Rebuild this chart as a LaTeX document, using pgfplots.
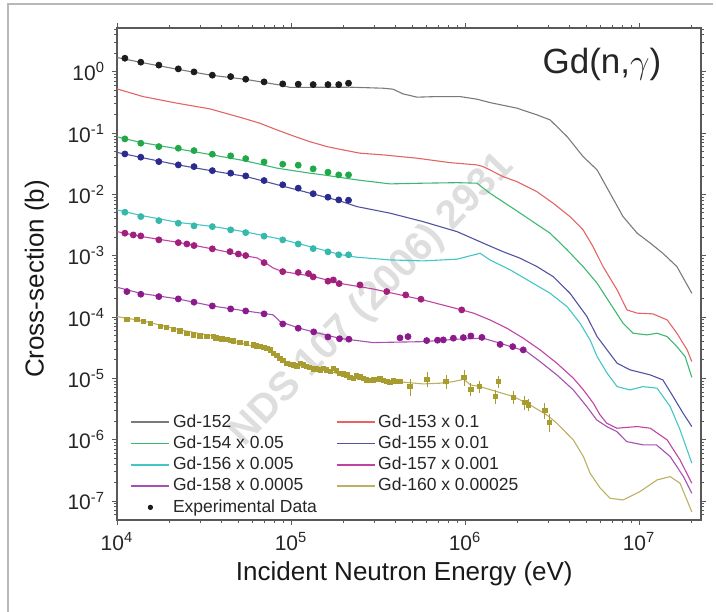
\documentclass[border=0pt]{standalone}
\usepackage{fontspec}
\setmainfont{Liberation Sans}
\usepackage{pgfplots}
\pgfplotsset{compat=1.18}

\definecolor{l152}{HTML}{7A7A7A}
\definecolor{l153}{HTML}{E46464}
\definecolor{l154}{HTML}{3DB872}
\definecolor{l155}{HTML}{5252A2}
\definecolor{l156}{HTML}{42C6C6}
\definecolor{l157}{HTML}{C242A2}
\definecolor{l158}{HTML}{A452B2}
\definecolor{l160}{HTML}{BCB062}
\definecolor{d152}{HTML}{1C1C1C}
\definecolor{d154}{HTML}{20A84A}
\definecolor{d155}{HTML}{2B2B8F}
\definecolor{d156}{HTML}{36B8AA}
\definecolor{d157}{HTML}{A0207C}
\definecolor{d158}{HTML}{8C1A8C}
\definecolor{d160}{HTML}{A89C30}

\pgfplotsset{
  calc/.style={line width=0.55pt, no marks},
  expt/.style={only marks, mark=*, mark size=1.5pt},
}

\begin{document}
\begin{tikzpicture}
\begin{axis}[
    xmode=log, ymode=log,
    scale only axis,
    width=292pt, height=246pt,
    xmin=1e4, xmax=2.27e7,
    ymin=4.9e-8, ymax=5.2,
    xtick={1e4,1e5,1e6,1e7},
    xticklabels={10\textsuperscript{4},10\textsuperscript{5},10\textsuperscript{6},10\textsuperscript{7}},
    minor xtick={2e4,3e4,4e4,5e4,6e4,7e4,8e4,9e4,2e5,3e5,4e5,5e5,6e5,7e5,8e5,9e5,
                 2e6,3e6,4e6,5e6,6e6,7e6,8e6,9e6,2e7},
    ytick={1e-7,1e-6,1e-5,1e-4,1e-3,1e-2,1e-1,1e0},
    yticklabels={10\textsuperscript{-7},10\textsuperscript{-6},10\textsuperscript{-5},10\textsuperscript{-4},
                 10\textsuperscript{-3},10\textsuperscript{-2},10\textsuperscript{-1},10\textsuperscript{0}},
    minor ytick={6e-8,7e-8,8e-8,9e-8,
                 2e-7,3e-7,4e-7,5e-7,6e-7,7e-7,8e-7,9e-7,
                 2e-6,3e-6,4e-6,5e-6,6e-6,7e-6,8e-6,9e-6,
                 2e-5,3e-5,4e-5,5e-5,6e-5,7e-5,8e-5,9e-5,
                 2e-4,3e-4,4e-4,5e-4,6e-4,7e-4,8e-4,9e-4,
                 2e-3,3e-3,4e-3,5e-3,6e-3,7e-3,8e-3,9e-3,
                 2e-2,3e-2,4e-2,5e-2,6e-2,7e-2,8e-2,9e-2,
                 2e-1,3e-1,4e-1,5e-1,6e-1,7e-1,8e-1,9e-1,
                 2e0,3e0,4e0,5e0},
    tick align=outside,
    major tick length=2.5pt, minor tick length=1.5pt,
    axis line style={black!65, line width=0.7pt},
    every tick/.style={black!65, line width=0.5pt},
    tick label style={font=\fontsize{10.5}{12}\selectfont, text=black!85},
    xlabel={Incident Neutron Energy (eV)},
    ylabel={Cross-section (b)},
    label style={font=\fontsize{13}{15}\selectfont, text=black!90},
    xlabel style={at={(axis description cs:0.492,-0.122)}, anchor=base},
    ylabel style={at={(axis description cs:-0.137,0.49)}, anchor=center},
    legend columns=2,
    legend cell align=left,
    legend style={at={(axis cs:1.1e4,4.9e-8)}, anchor=south west, yshift=-1.2pt,
      draw=none, fill=none,
      font=\fontsize{8.75}{10.5}\selectfont, text=black!85,
      nodes={inner sep=1.4pt, text depth=0.15em},
      /tikz/every even column/.append style={column sep=8pt}},
    legend image code/.code={\draw[#1] (0pt,0pt) -- (19pt,0pt);},
]

\node[rotate=46, text=black!13, font=\bfseries\fontsize{20}{20}\selectfont]
  at (rel axis cs:0.437,0.447) {NDS 107 (2006) 2931};

% evaluated curves
\addplot[calc, l152, forget plot] coordinates {
(1e4,1.72) (1.37e4,1.43) (2.24e4,1.10) (3.52e4,0.877) (5.5e4,0.755) (8.87e4,0.602)
(9.86e4,0.559) (2.18e5,0.563) (3.38e5,0.542) (3.86e5,0.522) (4.40e5,0.438) (5.30e5,0.387)
(6.90e5,0.396) (9.35e5,0.396) (1.17e6,0.359) (1.39e6,0.316) (1.99e6,0.256) (2.59e6,0.199)
(3.08e6,0.165) (3.86e6,0.0880) (4.77e6,0.0415) (5.74e6,0.0252) (6.81e6,0.0105)
(8.09e6,4.36e-3) (9.75e6,2.34e-3) (1.16e7,1.61e-3) (1.37e7,1.10e-3) (1.65e7,6.67e-4) (2.01e7,2.45e-4)
};
\addplot[calc, l153, forget plot] coordinates {
(1e4,0.528) (1.41e4,0.396) (2.21e4,0.309) (3.42e4,0.249) (5.30e4,0.176) (6.64e4,0.145)
(8.31e4,0.113) (1.03e5,0.0903) (1.28e5,0.0729) (1.61e5,0.0604) (1.99e5,0.0534) (2.49e5,0.0472)
(3.38e5,0.0443) (5.30e5,0.0391) (8.20e5,0.0331) (1.17e6,0.0304) (1.27e6,0.0285) (1.39e6,0.0252)
(1.65e6,0.0196) (1.99e6,0.0162) (2.59e6,0.0111) (3.21e6,7.21e-3) (4.01e6,4.36e-3) (4.77e6,2.65e-3)
(5.44e6,1.41e-3) (6.21e6,6.67e-4) (7.48e6,2.78e-4) (8.53e6,1.31e-4) (9.75e6,1.16e-4) (1.20e7,1.13e-4)
(1.45e7,9.0e-5) (1.65e7,5.46e-5) (1.89e7,2.92e-5) (2.01e7,1.88e-5)
};
\addplot[calc, l154, forget plot] coordinates {
(1e4,0.0871) (1.37e4,0.0708) (2.24e4,0.0555) (3.52e4,0.0443) (5.5e4,0.0353) (8.31e4,0.0269)
(1.28e5,0.0223) (1.53e5,0.0209) (2.39e5,0.0173) (3.71e5,0.0149) (5.74e5,0.0153) (8.99e5,0.0156)
(1.17e6,0.0153) (1.39e6,0.0105) (1.82e6,6.35e-3) (2.37e6,3.85e-3) (3.08e6,2.34e-3) (3.86e6,1.25e-3)
(4.77e6,6.67e-4) (5.74e6,3.57e-4) (6.81e6,1.69e-4) (8.09e6,7.95e-5) (9.24e6,5.46e-5) (1.11e7,5.13e-5)
(1.27e7,5.46e-5) (1.45e7,4.81e-5) (1.65e7,3.30e-5) (1.84e7,2.27e-5) (2.01e7,1.04e-5)
};
\addplot[calc, l155, forget plot] coordinates {
(1e4,0.0486) (1.37e4,0.0403) (2.24e4,0.0304) (3.52e4,0.0243) (5.5e4,0.0197) (8.87e4,0.0138)
(1.34e5,0.0102) (1.91e5,7.87e-3) (2.39e5,6.35e-3) (3.71e5,4.96e-3) (5.74e5,3.61e-3) (8.99e5,2.48e-3)
(1.34e6,1.51e-3) (1.65e6,1.17e-3) (2.07e6,9.15e-4) (2.59e6,6.67e-4) (3.21e6,4.58e-4) (4.01e6,2.45e-4)
(5.02e6,1.02e-4) (5.74e6,4.81e-5) (6.55e6,2.92e-5) (7.48e6,1.77e-5) (8.87e6,1.38e-5) (1.16e7,1.14e-5)
(1.37e7,9.46e-6) (1.57e7,5.05e-6) (1.79e7,2.71e-6) (2.01e7,1.64e-6)
};
\addplot[calc, l156, forget plot] coordinates {
(1e4,5.61e-3) (1.37e4,4.56e-3) (2.24e4,3.51e-3) (3.52e4,3.02e-3) (5.5e4,2.45e-3) (8.87e4,1.85e-3)
(1.34e5,1.37e-3) (1.91e5,1.05e-3) (2.39e5,9.48e-4) (3.71e5,8.57e-4) (5.74e5,8.26e-4) (8.99e5,8.81e-4)
(1.22e6,1.10e-3) (1.39e6,8.57e-4) (1.82e6,5.89e-4) (2.37e6,3.79e-4) (3.08e6,2.45e-4) (3.86e6,1.48e-4)
(4.58e6,7.95e-5) (5.23e6,4.25e-5) (5.74e6,2.27e-5) (6.55e6,1.22e-5) (7.48e6,7.35e-6) (8.87e6,6.49e-6)
(1.05e7,7.35e-6) (1.27e7,6.92e-6) (1.51e7,3.47e-6) (1.72e7,1.45e-6) (2.01e7,4.14e-7)
};
\addplot[calc, l157, forget plot] coordinates {
(1e4,2.48e-3) (1.37e4,2.07e-3) (2.24e4,1.66e-3) (3.52e4,1.30e-3) (5.5e4,9.96e-4) (6.38e4,9.24e-4)
(7.0e4,7.94e-4) (7.88e4,6.35e-4) (8.87e4,5.57e-4) (1.34e5,4.62e-4) (1.91e5,3.55e-4) (2.96e5,2.88e-4)
(5.74e5,1.91e-4) (9.57e5,1.31e-4) (1.12e6,1.16e-4) (1.39e6,9.0e-5) (1.74e6,6.59e-5) (2.16e6,4.53e-5)
(2.70e6,2.92e-5) (3.37e6,1.77e-5) (4.19e6,1.01e-5) (4.79e6,6.49e-6) (5.46e6,3.94e-6) (5.97e6,2.54e-6)
(6.52e6,1.86e-6) (7.45e6,1.54e-6) (9.75e6,1.64e-6) (1.16e7,1.54e-6) (1.45e7,9.93e-7) (1.72e7,4.68e-7)
(2.01e7,1.95e-7)
};
\addplot[calc, l158, forget plot] coordinates {
(1e4,3.07e-4) (1.37e4,2.44e-4) (2.24e4,1.98e-4) (3.52e4,1.52e-4) (5.5e4,1.26e-4) (7.88e4,1.09e-4)
(8.65e4,8.45e-5) (1.10e5,6.67e-5) (1.34e5,5.74e-5) (1.91e5,4.50e-5) (2.96e5,3.84e-5) (5.74e5,3.98e-5)
(8.99e5,4.36e-5) (1.27e6,4.53e-5) (1.59e6,3.75e-5) (2.26e6,2.74e-5) (2.70e6,1.88e-5) (3.37e6,1.14e-5)
(4.19e6,6.49e-6) (5.01e6,3.47e-6) (5.71e6,2.10e-6) (6.52e6,1.64e-6) (7.45e6,1.36e-6) (8.50e6,9.31e-7)
(1.06e7,8.22e-7) (1.26e7,8.22e-7) (1.51e7,5.30e-7) (1.80e7,2.50e-7) (2.01e7,1.34e-7)
};
\addplot[calc, l160, forget plot] coordinates {
(1e4,1.02e-4) (1.41e4,8.67e-5) (2.24e4,6.30e-5) (3.52e4,4.93e-5) (5.5e4,3.59e-5) (7.25e4,2.92e-5)
(7.88e4,2.61e-5) (8.65e4,2.12e-5) (9.86e4,1.72e-5) (1.53e5,1.38e-5) (2.39e5,1.00e-5) (4.06e5,8.87e-6)
(5.74e5,8.13e-6) (7.18e5,8.35e-6) (8.57e5,8.87e-6) (9.87e5,9.70e-6) (1.07e6,7.84e-6) (1.22e6,7.35e-6)
(1.52e6,6.10e-6) (1.90e6,5.05e-6) (2.36e6,3.70e-6) (2.95e6,2.54e-6) (3.37e6,1.86e-6) (4.19e6,9.93e-7)
(4.79e6,5.30e-7) (5.23e6,2.84e-7) (5.97e6,1.64e-7) (6.81e6,1.11e-7) (8.09e6,1.04e-7) (1.01e7,1.42e-7)
(1.27e7,2.21e-7) (1.51e7,2.50e-7) (1.72e7,1.95e-7) (2.01e7,6.64e-8)
};

% experimental data
\addplot[expt, d152, forget plot] coordinates {
(1.11e4,1.67) (1.37e4,1.44) (1.74e4,1.29) (2.25e4,1.12) (2.77e4,1.00) (3.53e4,0.884) (4.50e4,0.838)
(5.49e4,0.760) (7.0e4,0.687) (8.96e4,0.637) (1.10e5,0.630) (1.34e5,0.621) (1.63e5,0.621)
(1.88e5,0.621) (2.14e5,0.654)
};
\addplot[expt, d154, forget plot] coordinates {
(1.11e4,0.0807) (1.37e4,0.0687) (1.74e4,0.0604) (2.25e4,0.0569) (2.77e4,0.0520) (3.53e4,0.0454)
(4.50e4,0.0427) (5.49e4,0.0385) (7.0e4,0.0340) (8.96e4,0.0312) (1.10e5,0.0301) (1.34e5,0.0262)
(1.63e5,0.0231) (1.88e5,0.0209) (2.14e5,0.0209)
};
\addplot[expt, d155, forget plot] coordinates {
(1.11e4,0.0459) (1.37e4,0.0406) (1.74e4,0.0344) (2.25e4,0.0304) (2.77e4,0.0285) (3.53e4,0.0245)
(4.50e4,0.0223) (5.49e4,0.0201) (7.0e4,0.0169) (8.96e4,0.0144) (1.10e5,0.0127) (1.34e5,0.0103)
(1.63e5,9.04e-3) (1.88e5,8.17e-3) (2.14e5,8.07e-3)
};
\addplot[expt, d156, forget plot] coordinates {
(1.11e4,5.14e-3) (1.37e4,4.36e-3) (1.74e4,3.75e-3) (2.25e4,3.40e-3) (2.77e4,3.08e-3) (3.53e4,2.99e-3)
(4.50e4,2.65e-3) (5.49e4,2.39e-3) (7.0e4,2.09e-3) (8.96e4,1.82e-3) (1.10e5,1.56e-3) (1.34e5,1.31e-3)
(1.63e5,1.16e-3) (1.88e5,1.04e-3) (2.14e5,1.04e-3)
};
\addplot[expt, d157, forget plot] coordinates {
(1.11e4,2.34e-3) (1.24e4,2.19e-3) (1.37e4,2.11e-3) (1.74e4,1.82e-3) (2.25e4,1.64e-3) (2.52e4,1.56e-3)
(2.77e4,1.47e-3) (3.53e4,1.30e-3) (4.46e4,1.17e-3) (4.98e4,1.07e-3) (5.49e4,1.01e-3) (7.0e4,7.74e-4)
(8.96e4,5.52e-4) (1.10e5,5.36e-4) (1.26e5,5.13e-4) (1.34e5,4.53e-4) (1.63e5,3.86e-4) (1.75e5,4.04e-4)
(1.89e5,3.52e-4) (2.49e5,3.35e-4) (3.55e5,2.61e-4) (4.56e5,2.30e-4) (5.58e5,1.96e-4) (9.57e5,1.31e-4)
};
\addplot[expt, d158, forget plot] coordinates {
(1.14e4,2.61e-4) (1.37e4,2.36e-4) (1.74e4,2.16e-4) (2.25e4,1.98e-4) (2.77e4,1.75e-4) (3.53e4,1.52e-4)
(4.50e4,1.36e-4) (5.49e4,1.26e-4) (7.0e4,1.13e-4) (8.96e4,7.74e-5) (1.10e5,6.59e-5) (1.35e5,5.74e-5)
(1.63e5,4.75e-5) (1.90e5,4.44e-5) (2.15e5,4.36e-5) (4.23e5,4.58e-5) (4.70e5,4.81e-5) (6.02e5,4.14e-5)
(6.95e5,4.20e-5) (7.50e5,4.25e-5) (8.57e5,4.53e-5) (9.78e5,4.63e-5) (1.08e6,4.93e-5) (1.25e6,4.67e-5)
(1.59e6,3.59e-5) (1.88e6,3.30e-5) (2.16e6,2.92e-5)
};
\addplot[only marks, mark=square*, mark size=1.1pt, d160, forget plot] coordinates {
(1.14e4,9.24e-5) (1.30e4,9.24e-5) (1.42e4,8.45e-5) (1.55e4,7.96e-5) (1.77e4,7.00e-5) (1.93e4,6.75e-5)
(2.11e4,6.35e-5) (2.30e4,5.96e-5) (2.52e4,5.46e-5) (2.74e4,5.13e-5) (3.00e4,4.93e-5) (3.28e4,4.81e-5)
(3.58e4,4.81e-5) (3.7e4,4.6e-5) (3.91e4,4.53e-5) (4.0e4,4.4e-5) (4.27e4,4.33e-5) (4.5e4,4.2e-5)
(4.66e4,4.09e-5) (5.09e4,3.87e-5) (5.56e4,3.72e-5) (6.07e4,3.52e-5) (6.3e4,3.4e-5) (6.64e4,3.30e-5)
(7.0e4,3.2e-5) (7.25e4,3.11e-5) (7.6e4,2.9e-5) (7.91e4,2.58e-5) (8.3e4,2.4e-5) (8.65e4,2.14e-5)
(9.0e4,1.95e-5) (9.45e4,1.77e-5) (9.9e4,1.7e-5) (1.03e5,1.66e-5) (1.08e5,1.6e-5) (1.13e5,1.77e-5)
(1.18e5,1.65e-5) (1.23e5,1.56e-5) (1.28e5,1.5e-5) (1.34e5,1.43e-5) (1.40e5,1.42e-5) (1.47e5,1.38e-5)
(1.54e5,1.45e-5) (1.60e5,1.38e-5) (1.68e5,1.3e-5) (1.75e5,1.47e-5) (1.83e5,1.35e-5) (1.91e5,1.22e-5)
(2.0e5,1.18e-5) (2.09e5,1.14e-5) (2.18e5,1.05e-5) (2.28e5,1.01e-5) (2.38e5,1.1e-5) (2.49e5,1.06e-5)
(2.6e5,1.0e-5) (2.72e5,9.46e-6) (2.85e5,9.2e-6) (2.97e5,9.46e-6) (3.1e5,9.6e-6) (3.25e5,9.82e-6)
(3.4e5,9.3e-6) (3.55e5,8.87e-6) (3.7e5,8.7e-6) (3.87e5,9.10e-6) (4.05e5,8.9e-6) (4.23e5,8.87e-6)
};
\addplot[only marks, mark=square*, mark size=1.1pt, d160, forget plot,
  error bars/.cd, y dir=both, y explicit relative,
  error mark options={mark size=1.6pt, d160, line width=0.5pt},
  error bar style={d160, line width=0.5pt}] coordinates {
(4.83e5,7.35e-6) +- (0,0.2)
(6.05e5,9.70e-6) +- (0,0.17)
(7.78e5,8.87e-6) +- (0,0.13)
(9.87e5,1.05e-5) +- (0,0.18)
(1.08e6,6.67e-6) +- (0,0.12)
(1.21e6,7.35e-6) +- (0,0.1)
(1.55e6,8.87e-6) +- (0,0.1)
(1.49e6,5.05e-6) +- (0,0.13)
(1.90e6,4.93e-6) +- (0,0.13)
(2.21e6,4.03e-6) +- (0,0.13)
(2.31e6,3.70e-6) +- (0,0.12)
(2.88e6,2.99e-6) +- (0,0.17)
(3.05e6,1.90e-6) +- (0,0.22)
};

\node[anchor=base east, font=\fontsize{17.5}{19}\selectfont, text=black!85]
  at (rel axis cs:0.944,0.908) {Gd(n,$\gamma$)};

\addlegendimage{color=l152, line width=0.8pt}\addlegendentry{Gd-152}
\addlegendimage{color=l153, line width=0.8pt}\addlegendentry{Gd-153 x 0.1}
\addlegendimage{color=l154, line width=0.8pt}\addlegendentry{Gd-154 x 0.05}
\addlegendimage{color=l155, line width=0.8pt}\addlegendentry{Gd-155 x 0.01}
\addlegendimage{color=l156, line width=0.8pt}\addlegendentry{Gd-156 x 0.005}
\addlegendimage{color=l157, line width=0.8pt}\addlegendentry{Gd-157 x 0.001}
\addlegendimage{color=l158, line width=0.8pt}\addlegendentry{Gd-158 x 0.0005}
\addlegendimage{color=l160, line width=0.8pt}\addlegendentry{Gd-160 x 0.00025}
\addlegendimage{legend image code/.code={\fill[d152] (9.5pt,0pt) circle (1.1pt);}}
\addlegendentry{Experimental Data}
\end{axis}
\draw[black!28, line width=1pt]
  ([xshift=-54.5pt,yshift=-46pt]current axis.south west) |-
  ([xshift=6pt,yshift=12pt]current axis.north east);
\pgfresetboundingbox
\path[use as bounding box]
  ([xshift=-58.5pt,yshift=-45.5pt]current axis.south west) rectangle
  ([xshift=7.5pt,yshift=14pt]current axis.north east);
\end{tikzpicture}
\end{document}
